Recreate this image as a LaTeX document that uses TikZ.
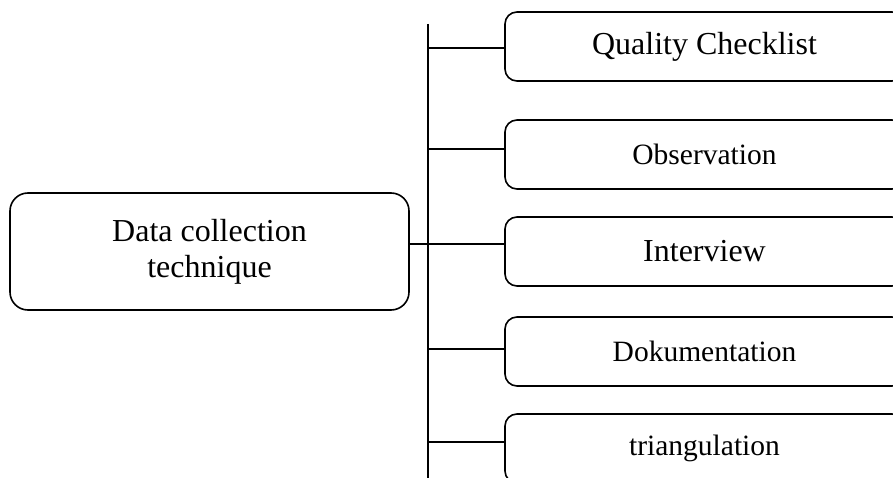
\documentclass[tikz,border=0pt]{standalone}
\usepackage{fontspec}
\setmainfont{Liberation Serif}
\usetikzlibrary{calc}

\begin{document}
\begin{tikzpicture}[x=1pt,y=1pt,
  box/.style={draw,line width=1.6pt,rounded corners=12pt,minimum width=399pt,minimum height=69pt,align=center,inner sep=0pt},
  big/.style={font=\fontsize{32}{36}\selectfont},
  small/.style={font=\fontsize{29.5}{34}\selectfont}]

\clip (0,0) rectangle (893,477);

\node[box,big,rounded corners=18pt,minimum height=117pt] (dct) at (209.5,225.5) {Data collection\\technique};

\node[box,big]   (qc) at (704.5,430.5) {Quality Checklist};
\node[box,small] (ob) at (704.5,322.5) {Observation};
\node[box,big]   (iv) at (704.5,225.5) {Interview};
\node[box,small] (dk) at (704.5,125.5) {Dokumentation};
\node[box,small] (tr) at (704.5,28.5)  {triangulation};

\coordinate (top) at (428,453);
\coordinate (bot) at (428,-5);
\coordinate (t1) at (428,429);
\coordinate (t2) at (428,328);
\coordinate (t3) at (428,233);
\coordinate (t4) at (428,128);
\coordinate (t5) at (428,35);

\begin{scope}[line width=1.6pt]
\draw (top) -- (bot);
\draw (dct.east |- t3) -- (t3);
\path (t1) edge (qc.west |- t1) (t2) edge (ob.west |- t2) (t3) edge (iv.west |- t3)
      (t4) edge (dk.west |- t4) (t5) edge (tr.west |- t5);
\end{scope}

\end{tikzpicture}
\end{document}
